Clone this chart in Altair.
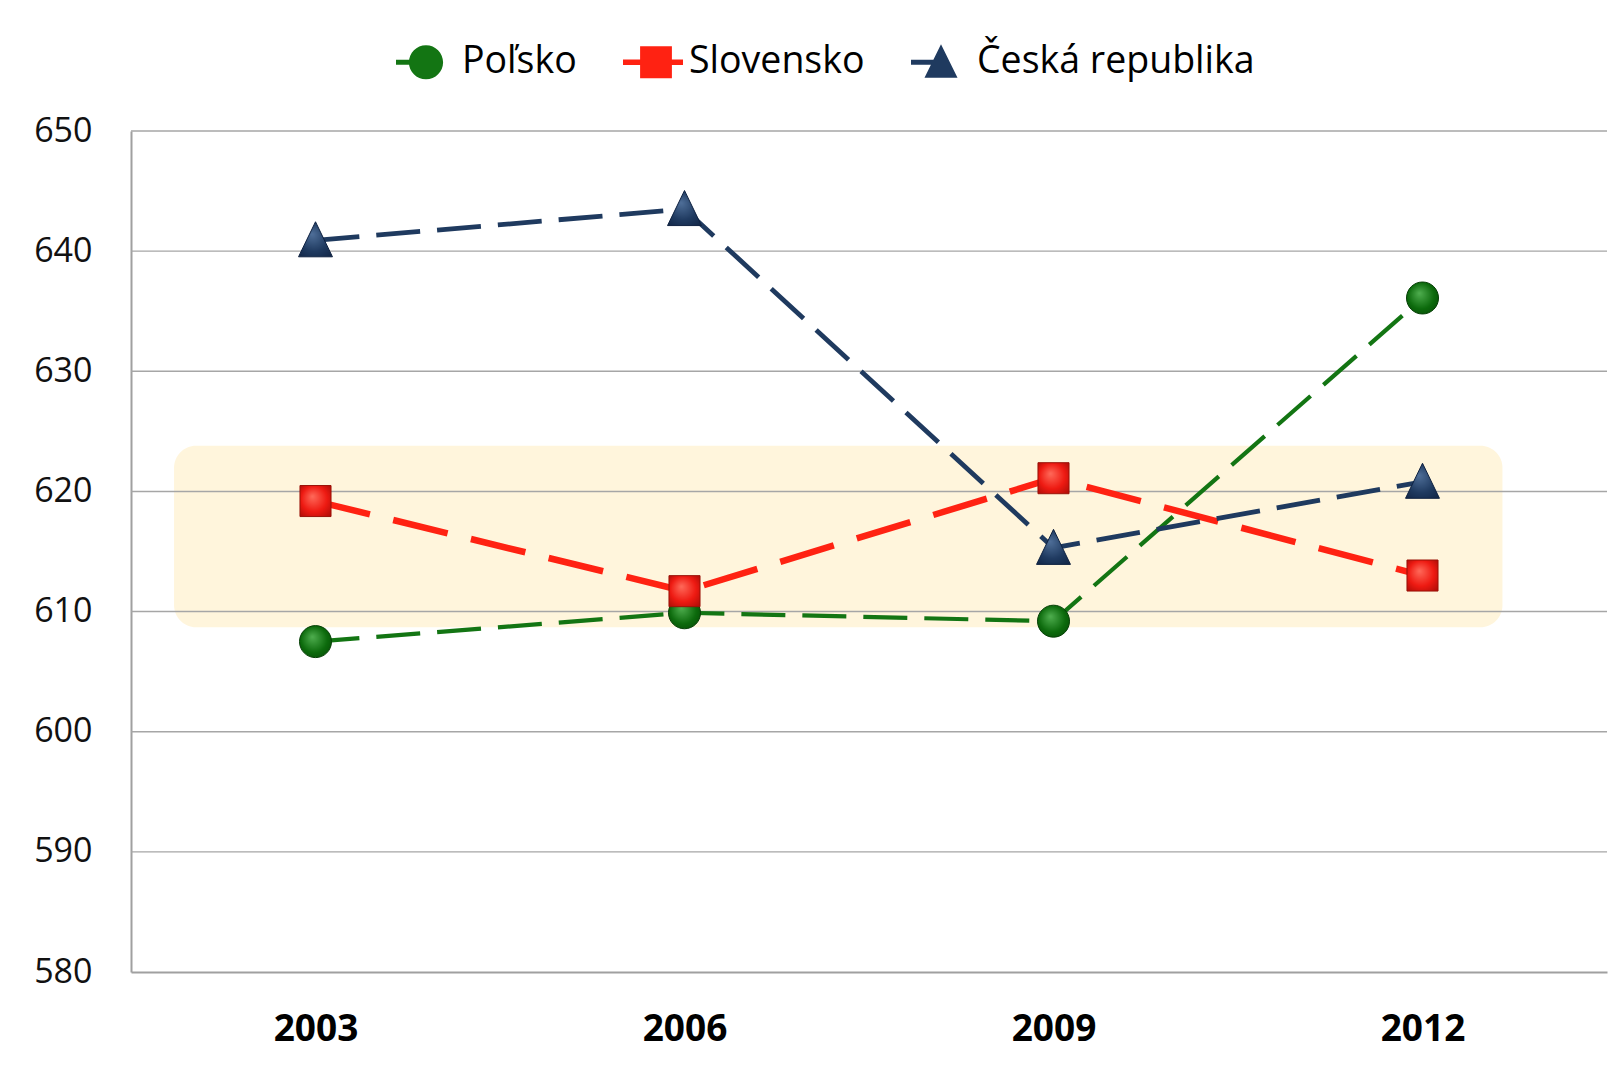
import altair as alt
import pandas as pd

# ---- data ----
years = [2003, 2006, 2009, 2012]
series_names = ["Poľsko", "Slovensko", "Česká republika"]
polsko = [607.5, 609.9, 609.2, 636.1]
slovensko = [619.2, 611.7, 621.1, 613.0]
ceska = [640.9, 643.5, 615.3, 620.8]
y_ticks = [580, 590, 600, 610, 620, 630, 640, 650]
band_x = [2001.85, 2012.65]
band_y = [608.7, 623.8]

rows = []
for name, vals in zip(series_names, [polsko, slovensko, ceska]):
    for yr, v in zip(years, vals):
        rows.append({"series": name, "year": yr, "value": v})
df = pd.DataFrame(rows)
band_df = pd.DataFrame({"x0": [band_x[0]], "x1": [band_x[1]], "y0": [band_y[0]], "y1": [band_y[1]]})
grid_df = pd.DataFrame({"v": y_ticks[1:]})

# ---- styles ----
FONT = "Open Sans"
x_scale = alt.Scale(domain=[2001.5, 2013.5], nice=False, zero=False)
y_scale = alt.Scale(domain=[580, 650], nice=False, zero=False)

x_axis = alt.Axis(values=years, format="d", title=None, grid=False, ticks=False, tickSize=0,
                  labelFont=FONT, labelFontSize=37, labelFontWeight="bold", labelColor="#000000",
                  labelPadding=39, domainColor="#a0a0a0", domainWidth=2)
y_axis = alt.Axis(values=y_ticks, title=None, grid=False, ticks=False, tickSize=0,
                  labelFont=FONT, labelFontSize=34, labelColor="#111111",
                  labelPadding=39, domainColor="#a0a0a0", domainWidth=2)


def X(field):
    return alt.X(field, scale=x_scale, axis=x_axis)


def Y(field):
    return alt.Y(field, scale=y_scale, axis=y_axis)


styles = {
    "Poľsko": dict(line="#137513", width=4.2, dash=[44, 17],
                   shape="M-1,0A1,1 0 1,1 1,0A1,1 0 1,1 -1,0Z",
                   stops=["#4fae4f", "#0c6a0c", "#044004"], stroke="#063f06"),
    "Slovensko": dict(line="#ff2212", width=6.5, dash=[56, 24],
                      shape="M-0.97,-0.97H0.97V0.97H-0.97Z",
                      stops=["#ff6a5a", "#ee1a12", "#a30a05"], stroke="#9a1208"),
    "Česká republika": dict(line="#1f3a5f", width=4.8, dash=[44, 17],
                            shape="M0,-1.16L1.06,1.03L-1.06,1.03Z",
                            stops=["#4f6f99", "#1f3a60", "#0e2140"], stroke="#0e2140"),
}

legend_paths = [
    "M-1,-0.085H-0.3V0.085H-1Z M-0.57,0A0.57,0.57 0 1,1 0.57,0A0.57,0.57 0 1,1 -0.57,0Z",
    "M-1,-0.09H1V0.09H-1Z M-0.43,-0.53H0.63V0.53H-0.43Z",
    "M-1,-0.085H-0.2V0.085H-1Z M0,-0.6L0.55,0.52L-0.55,0.52Z",
]

band = alt.Chart(band_df).mark_rect(color="#FFF5DC", cornerRadius=22).encode(
    x=X("x0:Q"), x2="x1:Q", y=Y("y0:Q"), y2="y1:Q",
)

grid = alt.Chart(grid_df).mark_rule(color="#a6a6a6", strokeWidth=1.4).encode(
    y=Y("v:Q")
)

layers = [band, grid]
for name in series_names:
    st = styles[name]
    sub = df[df["series"] == name]
    layers.append(
        alt.Chart(sub).mark_line(color=st["line"], strokeWidth=st["width"], strokeDash=st["dash"]).encode(
            x=X("year:Q"), y=Y("value:Q"),
        )
    )
for name in series_names:
    st = styles[name]
    sub = df[df["series"] == name]
    grad = alt.RadialGradient(
        gradient="radial",
        stops=[alt.GradientStop(color=st["stops"][0], offset=0),
               alt.GradientStop(color=st["stops"][1], offset=0.55),
               alt.GradientStop(color=st["stops"][2], offset=1)],
        x1=0.4, y1=0.35, r1=0, x2=0.5, y2=0.5, r2=0.75,
    )
    layers.append(
        alt.Chart(sub).mark_point(shape=st["shape"], size=1024, filled=True, fill=grad,
                                  stroke=st["stroke"], strokeWidth=1, opacity=1).encode(
            x=X("year:Q"), y=Y("value:Q"),
        )
    )

legend = alt.Legend(title=None, orient="none", direction="horizontal", legendX=265, legendY=-99,
                    labelFont=FONT, labelFontSize=37.5, labelColor="#000000", labelOffset=6,
                    symbolSize=3600, symbolStrokeWidth=0, symbolOpacity=1, columnPadding=46,
                    padding=0, labelLimit=400)
legend_layer = alt.Chart(df).mark_point(filled=True, opacity=0, size=10).encode(
    x=X("year:Q"), y=Y("value:Q"),
    color=alt.Color("series:N", scale=alt.Scale(domain=series_names,
                                                 range=[styles[n]["line"] for n in series_names]),
                    legend=legend),
    shape=alt.Shape("series:N", scale=alt.Scale(domain=series_names, range=legend_paths),
                    legend=legend),
)
layers.append(legend_layer)

chart = alt.layer(*layers).properties(
    width=1476, height=841,
    autosize=alt.AutoSizeParams(type="none"),
    padding={"left": 123, "top": 123, "right": 4, "bottom": 86},
    background="white",
).configure_view(stroke=None)

chart.save("out.html", embed_options={"renderer": "svg", "actions": False})
